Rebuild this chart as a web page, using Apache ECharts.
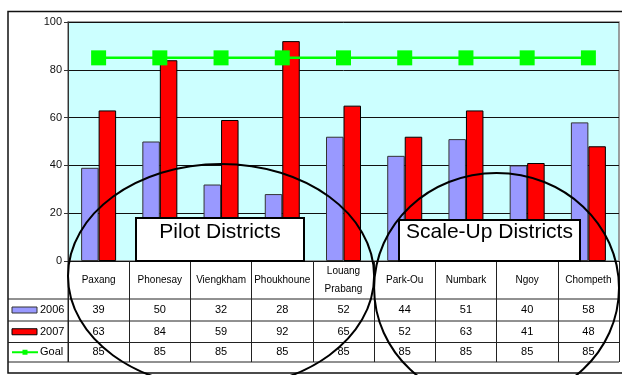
<!DOCTYPE html>
<html>
<head>
<meta charset="utf-8">
<script src="https://cdn.jsdelivr.net/npm/echarts@6/dist/echarts.min.js"></script>
<style>
  html, body { margin: 0; padding: 0; background: #fff; }
  #chart { width: 622px; height: 375px; }
</style>
</head>
<body>
<div id="chart"></div>
<script>
// District coverage, 2006 vs 2007, against the goal
const districts = ['Paxang', 'Phonesay', 'Viengkham', 'Phoukhoune', 'Louang\nPrabang', 'Park-Ou', 'Numbark', 'Ngoy', 'Chompeth'];
const values2006 = [39, 50, 32, 28, 52, 44, 51, 40, 58];
const values2007 = [63, 84, 59, 92, 65, 52, 63, 41, 48];
const goalValues = [85, 85, 85, 85, 85, 85, 85, 85, 85];
const yTicks = { min: 0, max: 100, step: 20 };
const seriesNames = ['2006', '2007', 'Goal'];
const districtGroups = [
  { name: 'Pilot Districts', first: 0, last: 4 },
  { name: 'Scale-Up Districts', first: 5, last: 8 }
];

const FONT = 'Arial, "Liberation Sans", sans-serif';
const BLUE = '#9999ff';
const RED = '#ff0000';
const GREEN = '#00ff00';

const chart = echarts.init(document.getElementById('chart'));

chart.setOption({
  animation: false,
  backgroundColor: '#ffffff',
  grid: {
    left: 68, right: 3, top: 22, bottom: 114,
    show: true, backgroundColor: '#ccffff', borderColor: '#808080', borderWidth: 1.5
  },
  xAxis: {
    type: 'category',
    data: districts,
    axisLine: { show: true, lineStyle: { color: '#111', width: 1 } },
    // band-edge ticks run down through the data table as column separators
    axisTick: { show: true, length: 101, lineStyle: { color: '#222', width: 1 } },
    axisLabel: {
      fontFamily: FONT, fontSize: 10, color: '#000', margin: 19,
      verticalAlign: 'middle', lineHeight: 17.6, interval: 0
    },
    splitLine: { show: false }
  },
  yAxis: {
    type: 'value',
    min: yTicks.min, max: yTicks.max, interval: yTicks.step,
    axisLine: { show: true, lineStyle: { color: '#333', width: 1 } },
    axisTick: { show: true, length: 4, lineStyle: { color: '#333' } },
    axisLabel: { fontFamily: FONT, fontSize: 11, color: '#111', margin: 6 },
    splitLine: { show: true, lineStyle: { color: '#111', width: 1 } }
  },
  series: [
    {
      name: seriesNames[0], type: 'bar', data: values2006,
      barWidth: 17.5, barGap: '0%',
      itemStyle: { color: BLUE, borderColor: '#333', borderWidth: 1 }
    },
    {
      name: seriesNames[1], type: 'bar', data: values2007,
      barWidth: 17.5, barGap: '0%',
      itemStyle: { color: RED, borderColor: '#000', borderWidth: 1 }
    },
    {
      name: seriesNames[2], type: 'line', data: goalValues, z: 5,
      symbol: 'rect', symbolSize: 15,
      lineStyle: { color: GREEN, width: 2.5 },
      itemStyle: { color: GREEN, borderWidth: 0 }
    }
  ]
});

// Data table, legend keys, district groupings
const xAt = i => chart.convertToPixel({ xAxisIndex: 0 }, i);
const band = xAt(1) - xAt(0);
const plotLeft = xAt(0) - band / 2;
const plotRight = xAt(districts.length - 1) + band / 2;
const tableLeft = 8;

const rows = [
  { name: seriesNames[0], values: values2006, top: 299, bottom: 321 },
  { name: seriesNames[1], values: values2007, top: 321, bottom: 342.5 },
  { name: seriesNames[2], values: goalValues, top: 342.5, bottom: 362 }
];

const graphics = [];

// outer frame
graphics.push({
  type: 'rect', z: 0, silent: true,
  shape: { x: tableLeft, y: 11.5, width: 620, height: 361.5 },
  style: { fill: 'none', stroke: '#111', lineWidth: 1.5 }
});

// horizontal table rules
[299, 321, 342.5, 362].forEach(y => {
  graphics.push({
    type: 'line', z: 10, silent: true,
    shape: { x1: tableLeft, y1: y, x2: plotRight, y2: y },
    style: { stroke: '#222', lineWidth: 1 }
  });
});

// left edge of the row-header column
graphics.push({
  type: 'line', z: 10, silent: true,
  shape: { x1: plotLeft, y1: 261, x2: plotLeft, y2: 362 },
  style: { stroke: '#222', lineWidth: 1 }
});

rows.forEach((row, r) => {
  const cy = (row.top + row.bottom) / 2;
  // legend key
  if (r < 2) {
    graphics.push({
      type: 'rect', z: 10, silent: true,
      shape: { x: 12, y: cy - 3, width: 25, height: 6 },
      style: { fill: r === 0 ? BLUE : RED, stroke: r === 0 ? '#333' : '#000', lineWidth: 1 }
    });
  } else {
    graphics.push({
      type: 'line', z: 10, silent: true,
      shape: { x1: 12, y1: cy, x2: 38, y2: cy },
      style: { stroke: GREEN, lineWidth: 2 }
    });
    graphics.push({
      type: 'rect', z: 11, silent: true,
      shape: { x: 22.5, y: cy - 2.5, width: 5, height: 5 },
      style: { fill: GREEN }
    });
  }
  graphics.push({
    type: 'text', z: 10, silent: true,
    style: { text: row.name, x: 40, y: cy, align: 'left', verticalAlign: 'middle', font: '11px ' + FONT, fill: '#000' }
  });
  row.values.forEach((v, i) => {
    graphics.push({
      type: 'text', z: 10, silent: true,
      style: { text: String(v), x: xAt(i), y: cy, align: 'center', verticalAlign: 'middle', font: '11px ' + FONT, fill: '#000' }
    });
  });
});

// group labels with boxes
const groupBoxes = [
  { x: 136, y: 218, w: 168, h: 43, ellipseCy: 276, ellipseRy: 112 },
  { x: 399, y: 220, w: 181, h: 41, ellipseCy: 288, ellipseRy: 115 }
];
districtGroups.forEach((g, k) => {
  const b = groupBoxes[k];
  graphics.push({
    type: 'rect', z: 20, silent: true,
    shape: { x: b.x, y: b.y, width: b.w, height: b.h },
    style: { fill: '#fff', stroke: '#000', lineWidth: 2 }
  });
  graphics.push({
    type: 'text', z: 21, silent: true,
    style: { text: g.name, x: b.x + b.w / 2, y: 232, align: 'center', verticalAlign: 'middle', font: '21px ' + FONT, fill: '#000' }
  });
  const left = xAt(g.first) - band / 2;
  const right = xAt(g.last) + band / 2;
  graphics.push({
    type: 'ellipse', z: 22, silent: true,
    shape: { cx: (left + right) / 2, cy: b.ellipseCy, rx: (right - left) / 2, ry: b.ellipseRy },
    style: { fill: 'none', stroke: '#000', lineWidth: 2 }
  });
});

chart.setOption({ graphic: graphics });
</script>
</body>
</html>
